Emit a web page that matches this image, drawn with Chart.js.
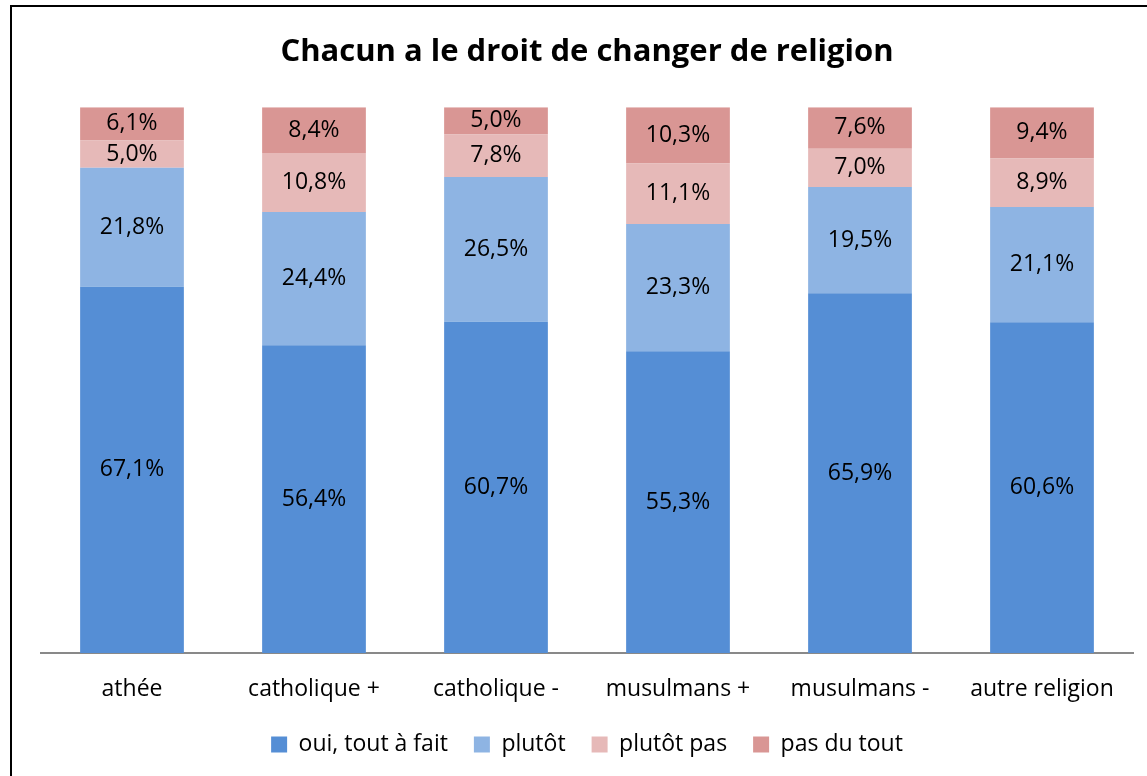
<!DOCTYPE html>
<html lang="fr">
<head>
    <meta charset="UTF-8">
    <title>Chacun a le droit de changer de religion</title>
    <style>
        body {
            margin: 0;
            background-color: #fff;
            font-family: 'Open Sans', sans-serif;
        }

        #frame {
            position: absolute;
            left: 10px;
            top: 5px;
            width: 1150px;
            height: 800px;
            border-left: 2px solid #000;
            border-top: 2px solid #000;
        }

        #wrap {
            position: absolute;
            left: 0;
            top: 0;
            width: 1147px;
            height: 776px;
        }
    </style>
</head>
<body>
    <div id="frame"></div>
    <div id="wrap">
        <canvas id="graph"></canvas>
    </div>

    <script src="https://cdn.jsdelivr.net/npm/chart.js"></script>
    <script>
        const categories = ['athée', 'catholique +', 'catholique -', 'musulmans +', 'musulmans -', 'autre religion'];
        const seriesNames = ['oui, tout à fait', 'plutôt', 'plutôt pas', 'pas du tout'];
        const ouiToutAFait = [67.1, 56.4, 60.7, 55.3, 65.9, 60.6];
        const plutot = [21.8, 24.4, 26.5, 23.3, 19.5, 21.1];
        const plutotPas = [5.0, 10.8, 7.8, 11.1, 7.0, 8.9];
        const pasDuTout = [6.1, 8.4, 5.0, 10.3, 7.6, 9.4];
        const colors = ['#558ED5', '#8EB4E3', '#E6B9B8', '#D99694'];

        // writes the value in the middle of each bar piece
        const valueLabels = {
            id: 'valueLabels',
            afterDatasetsDraw(chart) {
                const ctx = chart.ctx;
                ctx.save();
                ctx.font = '23px "Open Sans"';
                ctx.fillStyle = '#000';
                ctx.textAlign = 'center';
                ctx.textBaseline = 'middle';
                chart.data.datasets.forEach((ds, i) => {
                    chart.getDatasetMeta(i).data.forEach((bar, j) => {
                        const text = ds.data[j].toFixed(1).replace('.', ',') + '%';
                        ctx.fillText(text, bar.x, (bar.y + bar.base) / 2);
                    });
                });
                ctx.restore();
            }
        };

        const ctx = document.getElementById('graph').getContext('2d');
        new Chart(ctx, {
            type: 'bar',
            data: {
                labels: categories,
                datasets: [ouiToutAFait, plutot, plutotPas, pasDuTout].map((values, i) => ({
                    label: seriesNames[i],
                    data: values,
                    backgroundColor: colors[i],
                    borderWidth: 0,
                    barPercentage: 0.57,
                    categoryPercentage: 1
                }))
            },
            options: {
                responsive: true,
                maintainAspectRatio: false,
                animation: false,
                layout: {
                    padding: { left: 41, right: 14, top: 0, bottom: 10 }
                },
                scales: {
                    x: {
                        stacked: true,
                        grid: { display: false },
                        border: { display: true, color: '#898989', width: 2 },
                        ticks: {
                            color: '#000',
                            padding: 15,
                            font: { family: 'Open Sans', size: 23 }
                        },
                        afterFit(axis) {
                            axis.height = 54;
                        }
                    },
                    y: {
                        stacked: true,
                        display: false,
                        min: 0,
                        max: 100
                    }
                },
                plugins: {
                    title: {
                        display: true,
                        text: 'Chacun a le droit de changer de religion',
                        color: '#000',
                        font: { family: 'Open Sans', size: 31, weight: 'bold' },
                        padding: { top: 34, bottom: 36 }
                    },
                    legend: {
                        position: 'bottom',
                        labels: {
                            color: '#000',
                            boxWidth: 16,
                            boxHeight: 16,
                            padding: 26,
                            font: { family: 'Open Sans', size: 23 }
                        }
                    },
                    tooltip: { enabled: false }
                }
            },
            plugins: [valueLabels]
        });
    </script>
</body>
</html>
